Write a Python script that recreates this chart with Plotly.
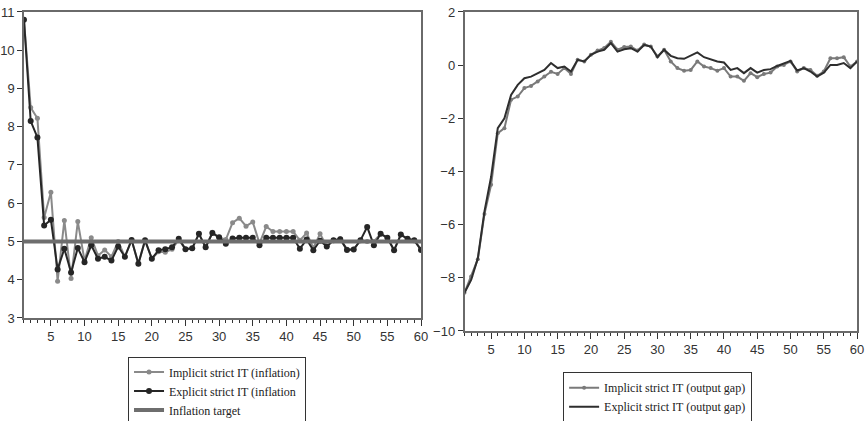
import plotly.graph_objects as go

# Periods
periods = list(range(1, 61))

# Inflation paths
implicit_inflation = [
    10.80, 8.50, 8.22, 5.63, 6.29, 3.96, 5.55, 4.03, 5.52, 4.50,
    5.10, 4.63, 4.78, 4.60, 5.00, 4.60, 5.04, 4.42, 5.03, 4.55,
    4.73, 4.72, 4.80, 5.05, 4.80, 4.82, 5.20, 4.85, 5.24, 5.10,
    5.05, 5.49, 5.61, 5.40, 5.51, 4.95, 5.39, 5.26, 5.26, 5.26,
    5.26, 5.03, 5.22, 4.83, 5.20, 4.87, 5.03, 5.07, 4.80, 4.80,
    5.03, 5.00, 5.00, 5.20, 5.10, 4.78, 5.18, 5.07, 5.03, 4.80,
]
explicit_inflation = [
    10.80, 8.15, 7.72, 5.42, 5.57, 4.27, 4.81, 4.19, 4.83, 4.46,
    4.90, 4.55, 4.60, 4.50, 4.87, 4.60, 5.04, 4.42, 5.03, 4.55,
    4.77, 4.80, 4.85, 5.07, 4.80, 4.82, 5.20, 4.85, 5.22, 5.11,
    4.94, 5.08, 5.10, 5.10, 5.10, 4.90, 5.10, 5.10, 5.10, 5.10,
    5.10, 4.81, 5.05, 4.77, 5.02, 4.87, 5.03, 5.06, 4.78, 4.79,
    5.03, 5.38, 4.90, 5.20, 5.10, 4.77, 5.18, 5.07, 5.03, 4.78,
]
inflation_target = [5.0] * 60

# Output gap paths
implicit_gap = [
    -8.56, -7.95, -7.30, -5.60, -4.50, -2.56, -2.37, -1.30, -1.18, -0.86,
    -0.78, -0.61, -0.43, -0.25, -0.33, -0.11, -0.33, 0.20, 0.14, 0.39,
    0.55, 0.65, 0.88, 0.58, 0.68, 0.70, 0.55, 0.78, 0.70, 0.33,
    0.58, 0.14, -0.11, -0.21, -0.18, 0.14, -0.05, -0.11, -0.21, -0.11,
    -0.43, -0.43, -0.59, -0.30, -0.45, -0.33, -0.28, -0.05, 0.01, 0.14,
    -0.24, -0.11, -0.18, -0.40, -0.24, 0.26, 0.26, 0.30, -0.05, 0.14,
]
explicit_gap = [
    -8.56, -8.08, -7.27, -5.50, -4.20, -2.37, -2.00, -1.12, -0.74, -0.49,
    -0.43, -0.30, -0.18, 0.08, -0.11, -0.05, -0.24, 0.20, 0.14, 0.39,
    0.51, 0.58, 0.83, 0.51, 0.60, 0.64, 0.51, 0.76, 0.70, 0.30,
    0.58, 0.35, 0.26, 0.24, 0.35, 0.48, 0.30, 0.23, 0.14, 0.10,
    -0.18, -0.11, -0.30, -0.11, -0.28, -0.18, -0.15, -0.03, 0.08, 0.16,
    -0.20, -0.11, -0.24, -0.43, -0.28, 0.01, 0.01, 0.08, -0.11, 0.14,
]

left_yticks = list(range(3, 12))
right_yticks = list(range(-10, 3, 2))
x_ticks = list(range(5, 61, 5))

tick_font = dict(family="Liberation Sans Narrow, Liberation Sans, Arial", size=13, color="#333333")
legend_font = dict(family="Liberation Serif, Times New Roman, serif", size=12, color="#222222")

fig = go.Figure()

# Left panel: inflation
fig.add_trace(go.Scatter(
    x=periods, y=implicit_inflation, mode="lines+markers",
    name="Implicit strict IT (inflation)",
    line=dict(color="#8a8a8a", width=2), marker=dict(color="#8a8a8a", size=5),
    xaxis="x", yaxis="y", legend="legend",
))
fig.add_trace(go.Scatter(
    x=periods, y=explicit_inflation, mode="lines+markers",
    name="Explicit strict IT (inflation",
    line=dict(color="#262626", width=2), marker=dict(color="#262626", size=6),
    xaxis="x", yaxis="y", legend="legend",
))
fig.add_trace(go.Scatter(
    x=periods, y=inflation_target, mode="lines",
    name="Inflation target",
    line=dict(color="#6e6e6e", width=4),
    xaxis="x", yaxis="y", legend="legend",
))

# Right panel: output gap
fig.add_trace(go.Scatter(
    x=periods, y=implicit_gap, mode="lines+markers",
    name="Implicit strict IT (output gap)",
    line=dict(color="#7a7a7a", width=2), marker=dict(color="#7a7a7a", size=4),
    xaxis="x2", yaxis="y2", legend="legend2",
))
fig.add_trace(go.Scatter(
    x=periods, y=explicit_gap, mode="lines",
    name="Explicit strict IT (output gap)",
    line=dict(color="#2e2e2e", width=2),
    xaxis="x2", yaxis="y2", legend="legend2",
))

axis_common = dict(
    showgrid=False, zeroline=False, showline=True, mirror=True,
    linecolor="#6a6a6a", linewidth=1.5, ticks="outside", tickcolor="#333333",
    tickwidth=1, tickfont=tick_font, automargin=False,
)
x_common = dict(
    axis_common, range=[1, 60], tickvals=x_ticks, ticklen=6,
    minor=dict(dtick=1, tick0=0, ticks="outside", ticklen=3, tickcolor="#333333"),
)

fig.update_layout(
    width=865, height=421,
    margin=dict(l=0, r=0, t=0, b=0, pad=0, autoexpand=False),
    paper_bgcolor="white", plot_bgcolor="white",
    xaxis=dict(x_common, domain=[0.0277, 0.4867], anchor="y"),
    yaxis=dict(axis_common, domain=[0.2447, 0.9715], range=[3, 11],
               tickvals=left_yticks, ticklen=5, anchor="x"),
    xaxis2=dict(x_common, domain=[0.537, 0.9908], anchor="y2"),
    yaxis2=dict(axis_common, domain=[0.2138, 0.9715], range=[-10, 2],
                tickvals=right_yticks, ticklen=5, anchor="x2"),
    legend=dict(x=0.148, y=0.153, xanchor="left", yanchor="top",
                bordercolor="#333333", borderwidth=1, bgcolor="white",
                font=legend_font, tracegroupgap=0, itemwidth=30),
    legend2=dict(x=0.651, y=0.116, xanchor="left", yanchor="top",
                 bordercolor="#333333", borderwidth=1, bgcolor="white",
                 font=legend_font, tracegroupgap=0, itemwidth=30),
    showlegend=True,
)

fig.write_html("out.html")
